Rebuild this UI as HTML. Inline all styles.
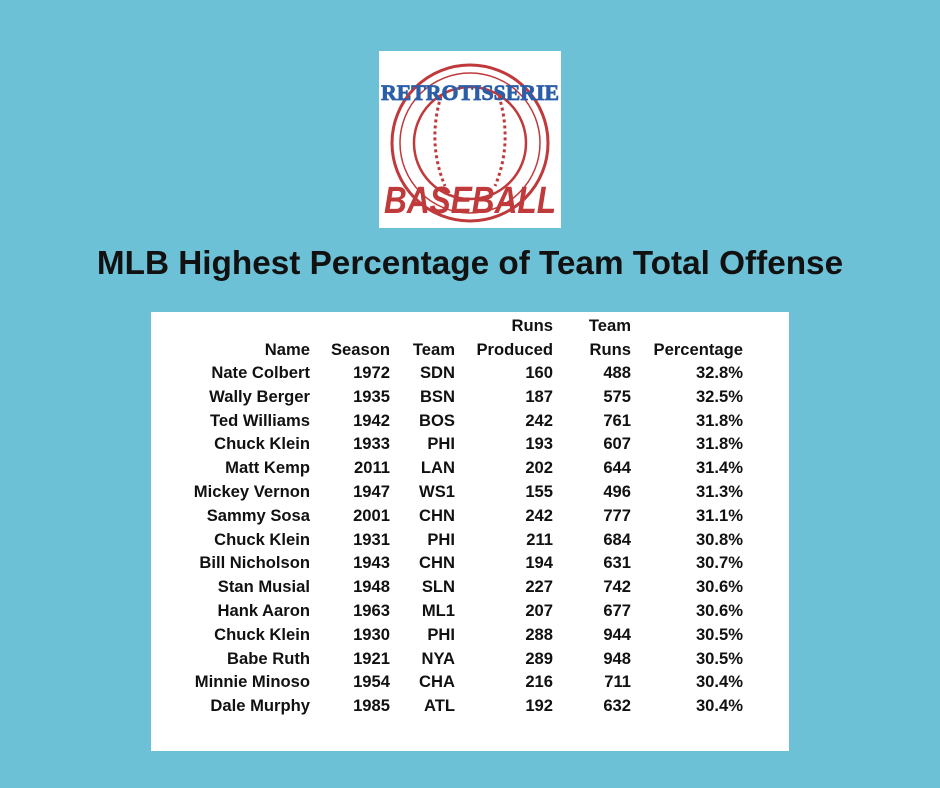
<!DOCTYPE html>
<html><head><meta charset="utf-8"><style>
body{margin:0;width:940px;height:788px;background:#6cc1d7;position:relative;overflow:hidden;font-family:"Liberation Sans",Arial,sans-serif}
.logo{position:absolute;left:379px;top:51px;width:182px;height:177px;background:#fff}
h1{position:absolute;left:0;width:940px;top:244px;margin:0;text-align:center;font-size:33.3px;font-weight:bold;color:#111;line-height:40px}
.panel{position:absolute;left:151px;top:312px;width:638px;height:439px;background:#fff}
.t{position:absolute;font-weight:bold;font-size:16.6px;color:#111;text-align:right;white-space:nowrap}
</style></head><body>
<div class="logo"><svg width="182" height="177" viewBox="0 0 182 177">
<circle cx="91" cy="92" r="78" fill="none" stroke="#c0393b" stroke-width="3"/>
<circle cx="91" cy="92" r="70" fill="none" stroke="#c0393b" stroke-width="1.5"/>
<circle cx="91" cy="92" r="56" fill="none" stroke="#c0393b" stroke-width="2.5"/>
<path d="M62 45 Q48 92 66 135" fill="none" stroke="#c0393b" stroke-width="3" stroke-dasharray="3 3"/>
<path d="M120 45 Q134 92 116 135" fill="none" stroke="#c0393b" stroke-width="3" stroke-dasharray="3 3"/>
<text x="91" y="49" text-anchor="middle" font-family="Liberation Serif,serif" font-weight="bold" font-size="22" fill="#2b5ea8" stroke="#2b5ea8" stroke-width="0.8" textLength="178" lengthAdjust="spacingAndGlyphs">RETROTISSERIE</text>
<text x="91" y="162" text-anchor="middle" font-family="Liberation Sans,sans-serif" font-weight="bold" font-style="italic" font-size="38" fill="#c0393b" textLength="172" lengthAdjust="spacingAndGlyphs">BASEBALL</text>
</svg></div>
<h1>MLB Highest Percentage of Team Total Offense</h1>
<div class="panel"></div>
<div id="tbl"></div>
<script>
var rights=[310,390,455,553,631,743];
var rows=[["Nate Colbert","1972","SDN","160","488","32.8%"],["Wally Berger","1935","BSN","187","575","32.5%"],["Ted Williams","1942","BOS","242","761","31.8%"],["Chuck Klein","1933","PHI","193","607","31.8%"],["Matt Kemp","2011","LAN","202","644","31.4%"],["Mickey Vernon","1947","WS1","155","496","31.3%"],["Sammy Sosa","2001","CHN","242","777","31.1%"],["Chuck Klein","1931","PHI","211","684","30.8%"],["Bill Nicholson","1943","CHN","194","631","30.7%"],["Stan Musial","1948","SLN","227","742","30.6%"],["Hank Aaron","1963","ML1","207","677","30.6%"],["Chuck Klein","1930","PHI","288","944","30.5%"],["Babe Ruth","1921","NYA","289","948","30.5%"],["Minnie Minoso","1954","CHA","216","711","30.4%"],["Dale Murphy","1985","ATL","192","632","30.4%"]];
var h="";
function cell(txt,r,y){h+='<div class="t" style="right:'+(940-r)+'px;top:'+(y-15)+'px">'+txt+'</div>';}
cell("Runs",553,331);cell("Team",631,331);
["Name","Season","Team","Produced","Runs","Percentage"].forEach(function(t,i){cell(t,rights[i],355);});
rows.forEach(function(r,j){r.forEach(function(t,i){cell(t,rights[i],378+j*23.8);});});
document.getElementById("tbl").innerHTML=h;
</script>
</body></html>
